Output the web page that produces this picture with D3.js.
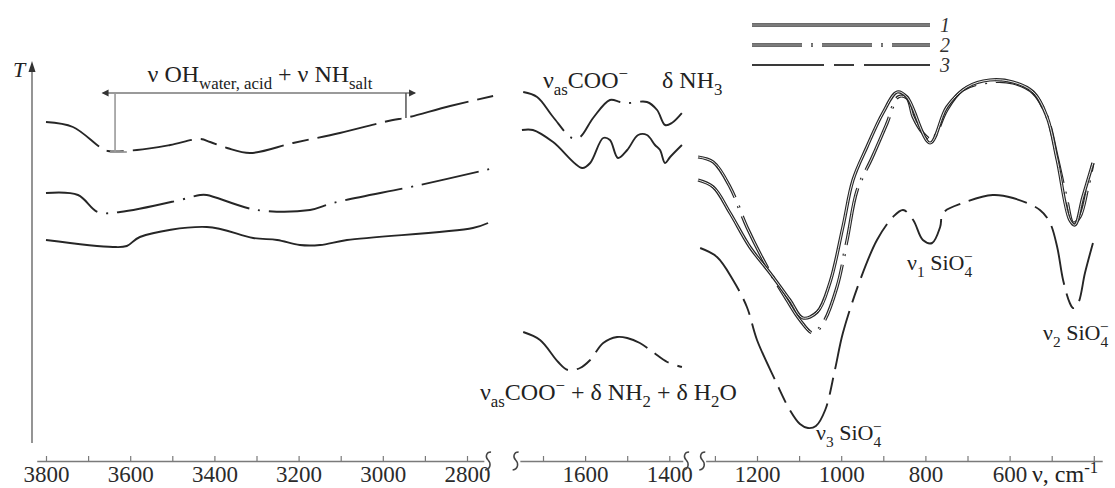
<!DOCTYPE html>
<html><head><meta charset="utf-8">
<script src="https://cdn.jsdelivr.net/npm/d3@7"></script>
<style>html,body{margin:0;padding:0;background:#fff;}svg{display:block;}</style>
</head><body>
<script>
// ---- data: [wavenumber cm-1, transmittance (arb. units)] ----
// Region 3800-2750 (OH / NH stretching)
const s1_OH = [[3800,55],[3641,53.25],[3608,53.5],[3577,55.75],[3418,58.25],[3308,55.5],[3251,55],[3197,53.75],[3149,53.75],[3085,55],[2786,58],[2750,59.25]];
const s2_OH = [[3800,66.75],[3724,66.25],[3677,62],[3624,62],[3482,65],[3434,66.25],[3418,66.25],[3299,62.5],[3173,62.5],[3118,64.25],[2912,68.75],[2746,72.75]];
const s3_OH = [[3800,84.5],[3736,83.25],[3672,78.25],[3653,77.25],[3584,77.5],[3505,78.75],[3434,80.25],[3410,79.5],[3370,78],[3315,76.75],[3213,79.25],[3102,81.75],[2976,85],[2947,85.5],[2840,88.5],[2738,91]];
// Region 1750-1370 (COO- / NH / H2O bending)
const s1_COO = [[1750,82.5],[1724,82.5],[1676,79.5],[1607,73],[1588,74.25],[1557,80.5],[1541,80],[1522,75.5],[1500,77.5],[1474,81.25],[1453,81.25],[1434,78.75],[1422,77.5],[1410,74.25],[1398,75.75],[1370,78.75]];
const s2_COO = [[1747,92],[1714,90.75],[1676,85.75],[1631,80.5],[1612,80.75],[1581,85.5],[1541,90],[1517,89.5],[1498,89.25],[1453,89.5],[1429,87.5],[1410,83.75],[1394,84.25],[1370,86.75]];
const s3_COO = [[1747,32],[1707,30],[1664,24.5],[1641,22.5],[1612,23],[1588,25],[1557,29.25],[1524,30.75],[1500,30.5],[1470,29.25],[1439,27],[1405,24.5],[1370,23.25]];
// Region 1340-400 (SiO4 bands)
const s1_Si = [[1340,70],[1304,68.25],[1264,61.75],[1217,53.25],[1169,46.75],[1122,40],[1091,35.5],[1057,37],[1027,44.25],[996,58.25],[972,70],[939,78.25],[901,86.75],[867,92],[844,90.75],[789,79.25],[749,88.25],[701,93.25],[647,95],[592,94.5],[544,92],[511,85.75],[487,75],[457,60],[445,58.75],[426,65.75],[402,74.25]];
const s2_Si = [[1340,75.75],[1304,74.5],[1264,68.25],[1224,58.25],[1176,48.25],[1129,40],[1098,35],[1067,31.75],[1043,34.25],[1010,43.25],[986,55],[962,67.5],[927,75.5],[891,84.25],[865,90.75],[844,90.5],[829,85.75],[806,81.75],[784,80],[772,82],[749,87.5],[711,92.5],[647,94.5],[592,94.25],[544,91.75],[511,85.75],[487,75.75],[464,65],[449,59.25],[433,60.75],[414,68.25],[402,74.25]];
const s3_Si = [[1335,53],[1295,50.75],[1257,45],[1224,38.25],[1200,30],[1157,20],[1122,12.5],[1098,9],[1079,8],[1060,8.5],[1038,12.5],[1015,22.5],[996,31.75],[955,45],[915,55],[877,60.75],[853,62.5],[829,60],[806,55],[784,54.25],[765,58.25],[758,61.75],[711,64.25],[640,66.25],[592,65.5],[528,62.5],[504,59.25],[487,53.25],[473,45],[457,39.25],[449,38],[437,39.25],[421,46.75],[402,54.25]];

const legendLabels = ["1","2","3"];
const tickLabelsOH = [3800,3600,3400,3200,3000,2800];
const tickLabelsCOO = [1600,1400];
const tickLabelsSi = [1200,1000,800,600];

// ---- layout ----
const W = 1115, H = 488;
const k = 0.421;           // px per cm-1
const axisY = 461;
const ink = "#262626", axisCol = "#7a7a7a";
const FONT = "'Liberation Serif','Times New Roman',serif";
const LBL = 24;

const svg = d3.select("body").append("svg").attr("width", W).attr("height", H);
const y = d3.scaleLinear().domain([0, 100]).range([460, 60]);

function panelScale(domain, anchorWn, anchorX) {
  return d3.scaleLinear().domain(domain).range(domain.map(d => anchorX + (anchorWn - d) * k));
}
const xOH  = panelScale([3822, 2760], 3800, 46);
const xCOO = panelScale([1755, 1368], 1700, 543);
const xSi  = panelScale([1322, 380], 1200, 757);

// ---- axes ----
function drawAxis(scale, ticks, labels) {
  const ax = d3.axisBottom(scale).tickValues(ticks).tickSizeInner(-5).tickSizeOuter(0)
    .tickFormat(d => labels.includes(d) ? String(d) : "");
  const g = svg.append("g").attr("transform", `translate(0,${axisY})`).call(ax);
  g.select(".domain").attr("stroke", axisCol).attr("stroke-width", 1.6);
  g.selectAll(".tick line").attr("stroke", axisCol).attr("stroke-width", 1.2);
  g.selectAll(".tick text").attr("y", 21).attr("dy", 0).attr("fill", "#2b2b2b")
    .style("font-family", FONT).style("font-size", "23px");
}
drawAxis(xOH, d3.range(3800, 2799, -100), tickLabelsOH);
drawAxis(xCOO, d3.range(1700, 1399, -100), tickLabelsCOO);
drawAxis(xSi, d3.range(1300, 399, -100), tickLabelsSi);

// break marks
function breakMark(x) {
  svg.append("path").attr("transform", `translate(${x},${axisY})`)
    .attr("d", "M3,-9 C-2,-9 -3,-4 0,-1 C3,2 3,8 -3,9")
    .attr("fill", "none").attr("stroke", "#444").attr("stroke-width", 1.5);
}
[xOH(2750), xCOO(1765), xCOO(1360), xSi(1330)].forEach(breakMark);

// y axis with arrow
svg.append("line").attr("x1", 32).attr("x2", 32).attr("y1", 443).attr("y2", 68)
  .attr("stroke", axisCol).attr("stroke-width", 1.6);
svg.append("path").attr("d", "M32,61 L28.5,72 L35.5,72 Z").attr("fill", "#333");
svg.append("text").attr("x", 13).attr("y", 77).text("T")
  .style("font-family", FONT).style("font-style", "italic").style("font-size", "22px").attr("fill", "#222");

// ---- curves ----
const styles = {
  1: { dash: null },
  2: { dash: "58,9,2,9" },
  3: { dash: "60,9,17,9" }
};
function drawCurve(data, xs, id, dbl) {
  const line = d3.line().x(d => xs(d[0])).y(d => y(d[1])).curve(d3.curveCatmullRom.alpha(0.5));
  const st = styles[id];
  const p = svg.append("path").datum(data).attr("d", line).attr("fill", "none")
    .attr("stroke", ink).attr("stroke-width", dbl ? 3.2 : 1.9).attr("stroke-linejoin", "round");
  if (st.dash) p.attr("stroke-dasharray", st.dash);
  if (dbl) {
    const q = svg.append("path").datum(data).attr("d", line).attr("fill", "none")
      .attr("stroke", "#fff").attr("stroke-width", 0.9);
    if (st.dash) q.attr("stroke-dasharray", st.dash);
  }
}
drawCurve(s1_OH, xOH, 1, false);
drawCurve(s2_OH, xOH, 2, false);
drawCurve(s3_OH, xOH, 3, false);
drawCurve(s1_COO, xCOO, 1, false);
drawCurve(s2_COO, xCOO, 2, false);
drawCurve(s3_COO, xCOO, 3, false);
drawCurve(s3_Si, xSi, 3, false);
drawCurve(s2_Si, xSi, 2, true);
drawCurve(s1_Si, xSi, 1, true);

// ---- annotation bracket in OH region ----
const brCol = "#9a9a9a";
svg.append("line").attr("x1", xOH(3665)).attr("x2", xOH(2924)).attr("y1", y(91.75)).attr("y2", y(91.75))
  .attr("stroke", brCol).attr("stroke-width", 2);
svg.append("path").attr("d", `M${xOH(3668)},${y(91.75)} l7,-3.5 l0,7 Z`).attr("fill", "#333");
svg.append("path").attr("d", `M${xOH(2921)},${y(91.75)} l-7,-3.5 l0,7 Z`).attr("fill", "#333");
svg.append("line").attr("x1", xOH(3636)).attr("x2", xOH(3636)).attr("y1", y(91.75)).attr("y2", y(77))
  .attr("stroke", brCol).attr("stroke-width", 1.6);
svg.append("line").attr("x1", xOH(3648)).attr("x2", xOH(3608)).attr("y1", y(77)).attr("y2", y(77))
  .attr("stroke", brCol).attr("stroke-width", 1.8);
svg.append("line").attr("x1", xOH(2945)).attr("x2", xOH(2945)).attr("y1", y(91.75)).attr("y2", y(85.5))
  .attr("stroke", "#555").attr("stroke-width", 1.5);

// ---- rich labels ----
function rich(x, yy, parts, size, anchor) {
  const t = svg.append("text").attr("x", x).attr("y", yy).attr("fill", "#222")
    .style("font-family", FONT).style("font-size", size + "px").attr("text-anchor", anchor || "start");
  let cur = 0;
  parts.forEach(p => {
    const kind = p[1] || "n";
    const off = kind === "sub" ? size * 0.3 : kind === "sup" ? -size * 0.38 : 0;
    const ts = t.append("tspan").text(p[0]).attr("dy", off - cur);
    if (kind !== "n") ts.style("font-size", (size * 0.7) + "px");
    if (p[2]) ts.attr("dx", p[2]);
    cur = off;
  });
  return t;
}
const sio4 = (n) => [["ν"], [n, "sub"], [" SiO"], ["4", "sub"], ["−", "sup", -8]];

rich(260, 82, [["ν OH"], ["water, acid", "sub"], [" + ν NH"], ["salt", "sub"]], LBL, "middle");
rich(543, 88, [["ν"], ["as", "sub"], ["COO"], ["−", "sup"]], LBL);
rich(662, 88, [["δ NH"], ["3", "sub"]], LBL);
rich(480, 400, [["ν"], ["as", "sub"], ["COO"], ["−", "sup"], [" + δ NH"], ["2", "sub"], [" + δ H"], ["2", "sub"], ["O"]], LBL);
rich(907, 270, sio4("1"), 22);
rich(1043, 340, sio4("2"), 22);
rich(816, 440, sio4("3"), 22);
rich(1032, 482, [["ν, cm"], ["-1", "sup"]], LBL);

// ---- legend ----
const legY = [25, 45, 65];
legendLabels.forEach((lab, i) => {
  const id = i + 1;
  const dash = id === 2 ? "50,9,2,9" : id === 3 ? "72,10,20,10" : null;
  const l = svg.append("line").attr("x1", 752).attr("x2", 930).attr("y1", legY[i]).attr("y2", legY[i])
    .attr("stroke", "#3a3a3a").attr("stroke-width", id === 3 ? 2 : 3.6);
  if (dash) l.attr("stroke-dasharray", dash);
  if (id !== 3) {
    const w = svg.append("line").attr("x1", 752).attr("x2", 930).attr("y1", legY[i]).attr("y2", legY[i])
      .attr("stroke", "#bdbdbd").attr("stroke-width", 1);
    if (dash) w.attr("stroke-dasharray", dash);
  }
  svg.append("text").attr("x", 940).attr("y", legY[i] + 7).text(lab)
    .style("font-family", FONT).style("font-style", "italic").style("font-size", "20px").attr("fill", "#333");
});
</script>
</body></html>
